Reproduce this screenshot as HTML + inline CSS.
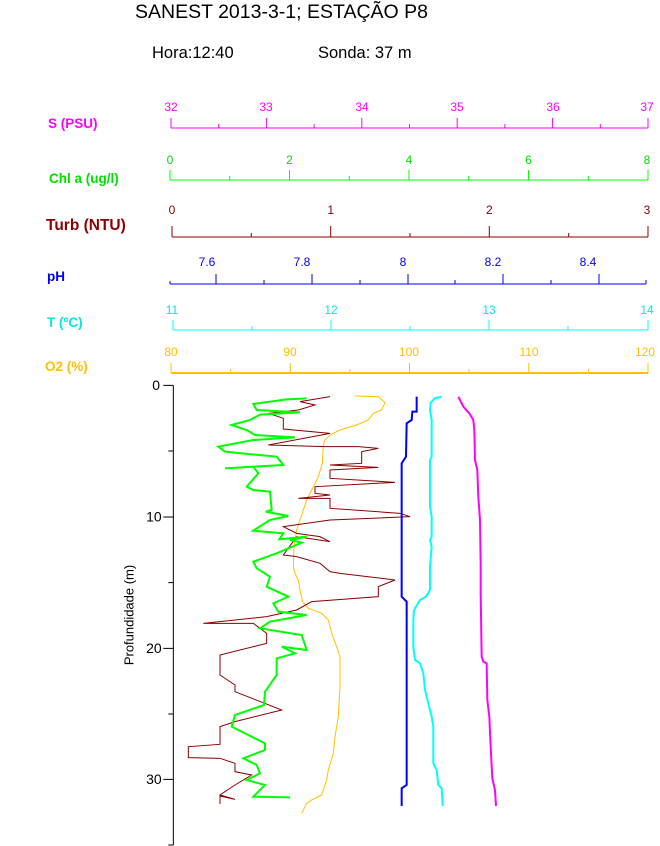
<!DOCTYPE html>
<html><head><meta charset="utf-8"><style>html,body{margin:0;padding:0;background:#fff}svg{display:block}text{font-family:"Liberation Sans",sans-serif}</style></head><body>
<svg width="660" height="846" viewBox="0 0 660 846" xmlns="http://www.w3.org/2000/svg">
<text x="135" y="18" font-size="19.5">SANEST 2013-3-1; ESTAÇÃO P8</text>
<text x="152" y="58" font-size="16.5">Hora:12:40</text>
<text x="318" y="58" font-size="16.5">Sonda: 37 m</text>

<g font-weight="bold" font-size="13.5">
<text x="48" y="128" fill="#ff00ff">S (PSU)</text>
<text x="49" y="183" fill="#00e000">Chl a (ug/l)</text>
<text x="46" y="230" fill="#8b0000" font-size="15.5">Turb (NTU)</text>
<text x="47" y="281" fill="#0000ff">pH</text>
<text x="47" y="327" fill="#00e8e8">T (ºC)</text>
<text x="45" y="371" fill="#ffc000">O2 (%)</text>
</g>

<g font-size="12" text-anchor="middle">
<g stroke="#ff00ff" stroke-width="1" fill="none">
<line x1="171" y1="128" x2="648" y2="128"/>
<path d="M171 118V128M218.7 124V128M266.4 118V128M314.1 124V128M361.8 118V128M409.5 124V128M457.2 118V128M504.9 124V128M552.6 118V128M600.3 124V128M648 118V128"/>
</g>
<g fill="#ff00ff"><text x="171" y="111">32</text><text x="266" y="111">33</text><text x="362" y="111">34</text><text x="457" y="111">35</text><text x="553" y="111">36</text><text x="647" y="111">37</text></g>
<g stroke="#00ff00" stroke-width="1" fill="none">
<line x1="170" y1="180" x2="648" y2="180"/>
<path d="M170 170V180M229.75 176V180M289.5 170V180M349.25 176V180M409 170V180M468.75 176V180M528.5 170V180M588.25 176V180M648 170V180"/>
</g>
<g fill="#00e000"><text x="170" y="164">0</text><text x="289.5" y="164">2</text><text x="409" y="164">4</text><text x="528.5" y="164">6</text><text x="647" y="164">8</text></g>
<g stroke="#8b0000" stroke-width="1" fill="none">
<line x1="172" y1="237" x2="648" y2="237"/>
<path d="M172 226V237M251.3 233V237M330.7 226V237M410 233V237M489.3 226V237M568.7 233V237M648 226V237"/>
</g>
<g fill="#8b0000"><text x="172" y="214">0</text><text x="330.7" y="214">1</text><text x="489.3" y="214">2</text><text x="647" y="214">3</text></g>
<g stroke="#0000ff" stroke-width="1" fill="none">
<line x1="170" y1="284" x2="646" y2="284"/>
<path d="M170 281V284M216 274V284M264 280V284M312 274V284M360 280V284M408 274V284M455 280V284M503 274V284M551 280V284M599 274V284M646 280V284"/>
</g>
<g fill="#0000ff"><text x="207" y="266">7.6</text><text x="302" y="266">7.8</text><text x="403" y="266">8</text><text x="493" y="266">8.2</text><text x="588" y="266">8.4</text></g>
<g stroke="#00ffff" stroke-width="1" fill="none">
<line x1="173" y1="330" x2="648" y2="330"/>
<path d="M173 320V330M252 326V330M331 320V330M410 326V330M489 320V330M568 326V330M648 320V330"/>
</g>
<g fill="#00e8e8"><text x="172" y="314">11</text><text x="331" y="314">12</text><text x="489" y="314">13</text><text x="647" y="314">14</text></g>
<g stroke="#ffc000" fill="none">
<line x1="171" y1="373" x2="648" y2="373" stroke-width="2"/>
<path stroke-width="1" d="M171 363V373M230.6 369V373M290.25 363V373M349.9 369V373M409.5 363V373M469.1 369V373M528.75 363V373M588.4 369V373M648 363V373"/>
</g>
<g fill="#ffc000"><text x="171" y="356">80</text><text x="290" y="356">90</text><text x="409" y="356">100</text><text x="529" y="356">110</text><text x="645" y="356">120</text></g>
</g>

<g transform="translate(120,380) scale(0.33333)" fill="none" stroke-linejoin="miter">
<path stroke="#000" stroke-width="3" d="M160 16V1395M130 16H160M145 213H160M130 411H160M145 608H160M130 805H160M145 1002H160M130 1198H160M145 1395H160"/>
<g font-size="42" fill="#000" text-anchor="end" stroke="none">
<text x="120" y="30">0</text><text x="125" y="425">10</text><text x="125" y="819">20</text><text x="125" y="1212">30</text>
<text transform="translate(40,705) rotate(-90)" text-anchor="middle" font-size="39">Profundidade (m)</text>
</g>
<polyline stroke="#ffc000" stroke-width="3" points="705,48 775,50 795,68 785,90 760,100 745,120 710,135 660,150 630,165 615,180 610,195 607,250 595,290 575,330 560,360 550,390 540,420 530,450 522,500 520,560 525,580 535,600 542,640 548,665 565,685 605,700 625,720 635,760 650,800 660,830 660,920 655,1010 645,1070 640,1120 625,1170 620,1200 605,1245 575,1260 560,1270 545,1300"/>
<polyline stroke="#8b0000" stroke-width="3" points="630,50 540,65 585,75 535,90 445,100 490,115 490,147 630,160 445,195 615,200 715,200 775,205 725,215 725,250 630,255 775,262 630,270 630,295 825,307 585,320 585,340 630,345 535,355 630,355 630,385 840,400 870,410 630,420 490,440 530,460 600,470 630,485 530,470 490,525 530,530 600,550 630,575 660,580 825,600 775,620 775,650 575,665 530,690 440,710 250,730 400,730 440,760 440,790 300,825 300,885 345,915 345,935 485,990 345,1025 300,1040 300,1093 205,1100 205,1133 300,1135 345,1150 345,1175 395,1185 345,1215 300,1245 345,1258 300,1248 300,1272"/>
<polyline stroke="#00ff00" stroke-width="6" points="560,55 500,58 400,72 410,90 540,97 420,104 390,120 335,135 380,150 405,165 525,172 400,180 295,200 315,215 470,230 490,255 315,265 400,260 415,280 380,320 400,330 450,335 455,390 437,395 505,408 450,420 400,452 490,460 478,478 560,470 510,480 545,488 470,520 400,545 410,565 450,590 440,620 505,650 460,670 475,695 560,705 450,725 420,745 545,765 560,810 485,800 525,820 470,835 470,885 435,935 432,975 345,1005 335,1040 435,1090 435,1110 370,1135 410,1155 420,1180 380,1200 435,1215 400,1250 510,1252"/>
<polyline stroke="#0000ff" stroke-width="6" points="890,50 890,95 877,95 875,120 860,130 858,230 845,250 845,650 860,665 860,1215 845,1225 845,1278"/>
<polyline stroke="#00ffff" stroke-width="6" points="965,50 945,55 932,68 930,90 935,120 935,230 930,240 930,380 935,410 935,470 930,480 935,500 930,560 930,630 918,650 900,660 882,690 880,720 880,800 885,840 900,850 910,880 915,930 925,970 935,1010 940,1040 940,1150 950,1170 955,1215 965,1225 968,1278"/>
<polyline stroke="#ff00ff" stroke-width="6" points="1015,50 1030,80 1048,100 1060,120 1063,150 1065,240 1072,270 1075,350 1080,420 1082,550 1082,640 1085,830 1090,845 1100,850 1102,960 1108,1010 1112,1100 1117,1195 1125,1230 1128,1278"/>
</g>
</svg>
</body></html>
